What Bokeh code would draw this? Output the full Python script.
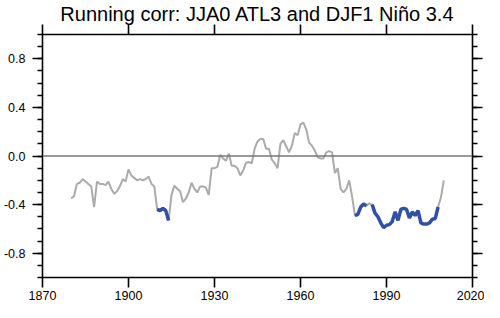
import numpy as np
from bokeh.plotting import figure
from bokeh.models import LinearAxis, Span, FixedTicker, Range1d, PrintfTickFormatter
from bokeh.embed import file_html
from bokeh.resources import INLINE

years = list(range(1880, 2011))
corr = [
    -0.35, -0.33, -0.23, -0.22, -0.19, -0.21, -0.23, -0.25, -0.42, -0.21,  # 1880-1889
    -0.23, -0.23, -0.24, -0.21, -0.27, -0.31, -0.29, -0.25, -0.19, -0.21,  # 1890-1899
    -0.11, -0.16, -0.18, -0.20, -0.19, -0.20, -0.19, -0.17, -0.23, -0.25,  # 1900-1909
    -0.44, -0.45, -0.43, -0.45, -0.53, -0.32, -0.245, -0.27, -0.29, -0.38,  # 1910-1919
    -0.35, -0.30, -0.22, -0.27, -0.30, -0.25, -0.25, -0.26, -0.32, -0.10,  # 1920-1929
    -0.10, -0.09, 0.01, -0.02, -0.04, 0.02, -0.08, -0.08, -0.10, -0.16,    # 1930-1939
    -0.12, -0.055, -0.05, -0.06, 0.06, 0.12, 0.14, 0.14, 0.06, 0.06,       # 1940-1949
    -0.03, -0.06, -0.10, 0.10, 0.13, 0.08, 0.03, 0.085, 0.19, 0.17,        # 1950-1959
    0.26, 0.275, 0.22, 0.11, 0.085, 0.045, -0.01, -0.02, -0.02, 0.03,      # 1960-1969
    0.04, 0.03, -0.14, -0.10, -0.27, -0.30, -0.27, -0.20, -0.335, -0.49,   # 1970-1979
    -0.48, -0.42, -0.395, -0.41, -0.39, -0.40, -0.47, -0.50, -0.55, -0.59, # 1980-1989
    -0.57, -0.565, -0.54, -0.46, -0.53, -0.44, -0.43, -0.44, -0.51, -0.46, # 1990-1999
    -0.49, -0.45, -0.55, -0.56, -0.56, -0.55, -0.52, -0.515, -0.42, -0.34, # 2000-2009
    -0.20,                                                                 # 2010
]
significant = [
    0, 0, 0, 0, 0, 0, 0, 0, 0, 0,
    0, 0, 0, 0, 0, 0, 0, 0, 0, 0,
    0, 0, 0, 0, 0, 0, 0, 0, 0, 0,
    1, 1, 1, 1, 1, 0, 0, 0, 0, 0,
    0, 0, 0, 0, 0, 0, 0, 0, 0, 0,
    0, 0, 0, 0, 0, 0, 0, 0, 0, 0,
    0, 0, 0, 0, 0, 0, 0, 0, 0, 0,
    0, 0, 0, 0, 0, 0, 0, 0, 0, 0,
    0, 0, 0, 0, 0, 0, 0, 0, 0, 0,
    0, 0, 0, 0, 0, 0, 0, 0, 0, 1,
    1, 1, 1, 1, 0, 1, 1, 1, 1, 1,
    1, 1, 1, 1, 1, 1, 1, 1, 1, 1,
    1, 1, 1, 1, 1, 1, 1, 1, 1, 0,
    0,
]
x_ticks = [1870, 1900, 1930, 1960, 1990, 2020]
y_ticks = [-0.8, -0.4, 0.0, 0.4, 0.8]
title_text = "Running corr: JJA0 ATL3 and DJF1 Niño 3.4"

sig_vals = [c if s else np.nan for c, s in zip(corr, significant)]

FONT = "Liberation Sans"

p = figure(width=484, height=302, output_backend="svg", toolbar_location=None,
           x_range=Range1d(1870, 2020), y_range=Range1d(-1.0, 1.0),
           title=title_text, x_axis_location=None, y_axis_location=None,
           min_border_left=0, min_border_right=12, min_border_top=0, min_border_bottom=0)
p.outline_line_color = None
p.xgrid.visible = False
p.ygrid.visible = False
p.title.align = "center"
p.title.text_font = FONT
p.title.text_font_size = "20px"
p.title.text_font_style = "normal"
p.title.text_color = "black"
p.title.text_line_height = 0.8
p.title.standoff = 0
p.title.offset = 0

def style(ax, labels, ticks, minor):
    ax.ticker = FixedTicker(ticks=ticks, minor_ticks=minor)
    ax.axis_line_width = 1.6
    ax.axis_line_color = "black"
    ax.major_tick_line_width = 1.6
    ax.minor_tick_line_width = 1.4
    ax.major_tick_out = 10
    ax.major_tick_in = 0
    ax.minor_tick_out = 5
    ax.minor_tick_in = 0
    ax.major_label_text_font = FONT
    ax.major_label_text_font_size = "12.5px"
    ax.major_label_text_color = "black"
    if not labels:
        ax.major_label_overrides = {t: "" for t in ticks}
        ax.major_label_standoff = 0

minor_y = [round(v, 1) for v in np.arange(-1.0, 1.01, 0.1)]

left = LinearAxis()
style(left, True, y_ticks, minor_y)
left.formatter = PrintfTickFormatter(format="%.1f")
left.major_label_standoff = 7
right = LinearAxis()
style(right, False, y_ticks, minor_y)
bottom = LinearAxis()
style(bottom, True, x_ticks, [])
bottom.major_label_standoff = 3
top = LinearAxis()
style(top, False, x_ticks, [])

p.add_layout(left, "left")
p.add_layout(right, "right")
p.add_layout(bottom, "below")
p.add_layout(top, "above")

p.add_layout(Span(location=0, dimension="width", line_color="#777777", line_width=1.5))

p.line(years, corr, line_color="#ABABAB", line_width=2)
p.line(years, sig_vals, line_color="#3050A8", line_width=3.5)

open("out.html", "w").write(file_html(p, INLINE))
